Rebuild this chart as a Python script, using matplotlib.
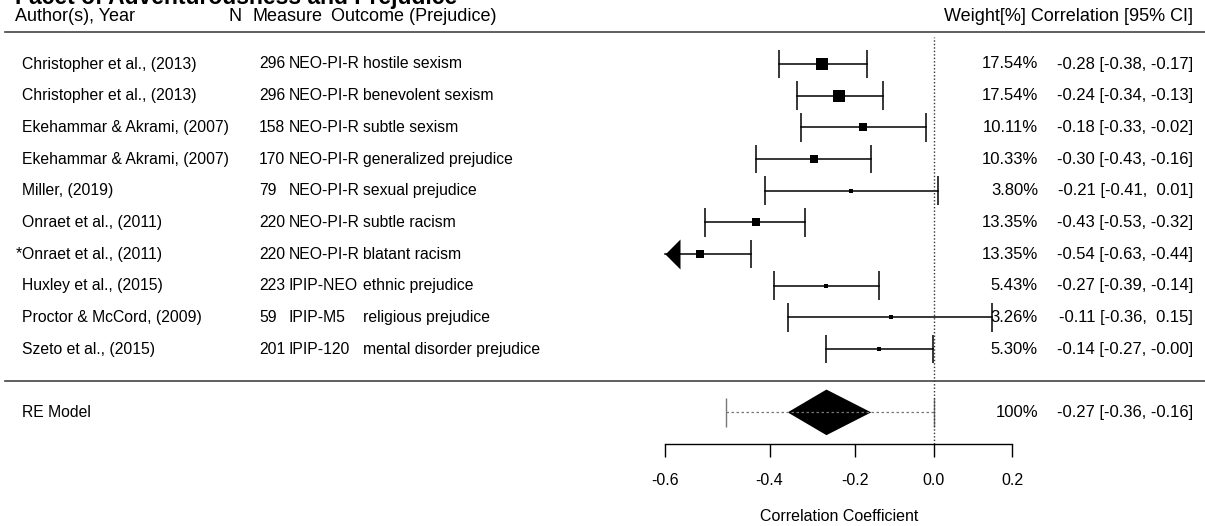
import numpy as np
import matplotlib.pyplot as plt
from matplotlib.path import Path

plt.rcParams['font.family'] = ['Liberation Sans', 'DejaVu Sans']

# study data
authors = ["Christopher et al., (2013)", "Christopher et al., (2013)",
           "Ekehammar & Akrami, (2007)", "Ekehammar & Akrami, (2007)",
           "Miller, (2019)", "Onraet et al., (2011)", "Onraet et al., (2011)",
           "Huxley et al., (2015)", "Proctor & McCord, (2009)", "Szeto et al., (2015)"]
starred = [False, False, False, False, False, False, True, False, False, False]
n_obs = [296, 296, 158, 170, 79, 220, 220, 223, 59, 201]
measures = ["NEO-PI-R", "NEO-PI-R", "NEO-PI-R", "NEO-PI-R", "NEO-PI-R",
            "NEO-PI-R", "NEO-PI-R", "IPIP-NEO", "IPIP-M5", "IPIP-120"]
outcomes = ["hostile sexism", "benevolent sexism", "subtle sexism",
            "generalized prejudice", "sexual prejudice", "subtle racism",
            "blatant racism", "ethnic prejudice", "religious prejudice",
            "mental disorder prejudice"]
weights = [17.54, 17.54, 10.11, 10.33, 3.80, 13.35, 13.35, 5.43, 3.26, 5.30]
r_est = [-0.28, -0.24, -0.18, -0.30, -0.21, -0.43, -0.54, -0.27, -0.11, -0.14]
r_lo = [-0.38, -0.34, -0.33, -0.43, -0.41, -0.53, -0.63, -0.39, -0.36, -0.27]
r_hi = [-0.17, -0.13, -0.02, -0.16, 0.01, -0.32, -0.44, -0.14, 0.15, -0.003]

# random effects model
re_est, re_lo, re_hi = -0.27, -0.36, -0.16
pi_lo, pi_hi = -0.49, 0.00

xticks = [-0.6, -0.4, -0.2, 0.0, 0.2]

W = 1205.0
fs = 11.3    # left columns
fs_r = 12    # weight / CI columns
fs_h = 13    # header
z = np.arctanh

# column x positions (pixels)
col_auth, col_n, col_meas, col_out = 22, 259, 289, 363
col_wt, col_ci = 1038, 1193

fig = plt.figure(figsize=(12.05, 5.26), dpi=100)
ax = fig.add_axes([0, 0, 1, 1])
tx = ax.get_yaxis_transform()   # x in figure fraction, y in rows

k = len(authors)
rows = np.arange(k, 0, -1)
xmin = z(xticks[0])

# left-pointing arrow head, tip at origin
tip = Path([(0, 0), (1, 1), (1, -1), (0, 0)],
           [Path.MOVETO, Path.LINETO, Path.LINETO, Path.CLOSEPOLY])

for i, row in enumerate(rows):
    lo, hi, est = z(r_lo[i]), z(r_hi[i]), z(r_est[i])
    clipped = lo < xmin
    ax.plot([max(lo, xmin), hi], [row, row], color='black', lw=1.1)
    ends = [hi] if clipped else [lo, hi]
    ax.vlines(ends, row - 0.45, row + 0.45, color='black', lw=1.1)
    if clipped:
        ax.plot(xmin, row, marker=tip, ms=21.6, color='black', mew=0)
    ax.plot(est, row, marker='s', ms=(2.06 + 0.51 * weights[i]) / 1.389,
            color='black', mew=0)

    ax.text(col_auth / W, row, authors[i], transform=tx, ha='left', va='center', fontsize=fs)
    if starred[i]:
        ax.text(col_auth / W, row, "*", transform=tx, ha='right', va='center', fontsize=fs)
    ax.text(col_n / W, row, str(n_obs[i]), transform=tx, ha='left', va='center', fontsize=fs)
    ax.text(col_meas / W, row, measures[i], transform=tx, ha='left', va='center', fontsize=fs)
    ax.text(col_out / W, row, outcomes[i], transform=tx, ha='left', va='center', fontsize=fs)
    ax.text(col_wt / W, row, f"{weights[i]:.2f}%", transform=tx, ha='right', va='center', fontsize=fs_r)
    ax.text(col_ci / W, row, f"{r_est[i]:.2f} [{r_lo[i]:.2f}, {r_hi[i]:5.2f}]",
            transform=tx, ha='right', va='center', fontsize=fs_r)

# RE model: prediction interval + diamond
ax.plot([z(pi_lo), z(pi_hi)], [-1, -1], color='#777777', lw=0.9, ls=(0, (2, 2)))
ax.vlines([z(pi_lo), z(pi_hi)], -1.45, -0.55, color='#777777', lw=1)
ax.fill([z(re_lo), z(re_est), z(re_hi), z(re_est)], [-1, -0.28, -1, -1.72],
        color='black', lw=0)
ax.text(col_auth / W, -1, "RE Model", transform=tx, ha='left', va='center', fontsize=fs)
ax.text(col_wt / W, -1, "100%", transform=tx, ha='right', va='center', fontsize=fs_r)
ax.text(col_ci / W, -1, f"{re_est:.2f} [{re_lo:.2f}, {re_hi:.2f}]",
        transform=tx, ha='right', va='center', fontsize=fs_r)

# reference line at zero
ax.plot([0, 0], [-2, k + 0.85], color='#333333', lw=1, ls=(0, (1, 1.5)))

# separator lines
ax.plot([5 / W, 1], [k + 1, k + 1], transform=tx, color='#444444', lw=1.2)
ax.plot([5 / W, 1], [0, 0], transform=tx, color='#444444', lw=1.2)

# headers and title
hy = k + 1.5
ax.text(15 / W, hy, "Author(s), Year", transform=tx, ha='left', va='center', fontsize=fs_h)
ax.text(229 / W, hy, "N", transform=tx, ha='left', va='center', fontsize=fs_h)
ax.text(253 / W, hy, "Measure", transform=tx, ha='left', va='center', fontsize=fs_h)
ax.text(331 / W, hy, "Outcome (Prejudice)", transform=tx, ha='left', va='center', fontsize=fs_h)
ax.text(col_ci / W, hy, "Weight[%] Correlation [95% CI]", transform=tx, ha='right',
        va='center', fontsize=fs_h)
ax.text(15 / W, k + 1.9, "Facet of Adventurousness and Prejudice", transform=tx,
        ha='left', va='baseline', fontsize=16.5, fontweight='bold')

# x axis on the Fisher-z scale
for s in ['top', 'right', 'left']:
    ax.spines[s].set_visible(False)
ax.spines['bottom'].set_position(('data', -2))
ax.spines['bottom'].set_bounds(z(xticks[0]), z(xticks[-1]))
ax.spines['bottom'].set_linewidth(1)
ax.set_xticks(z(np.array(xticks)))
ax.set_xticklabels([f"{t:.1f}" for t in xticks])
ax.tick_params(axis='x', direction='out', length=9, width=1, pad=12, labelsize=11.5)
ax.set_yticks([])
ax.text((z(xticks[0]) + z(xticks[-1])) / 2, -4.29, "Correlation Coefficient",
        ha='center', va='center', fontsize=11.5)

ax.set_xlim(-933.7 / 387.4, (W - 933.7) / 387.4)
ax.set_ylim((380.7 - 526) / 31.67, 380.7 / 31.67)
ax.patch.set_visible(False)

fig.savefig("out.png", dpi=100)
